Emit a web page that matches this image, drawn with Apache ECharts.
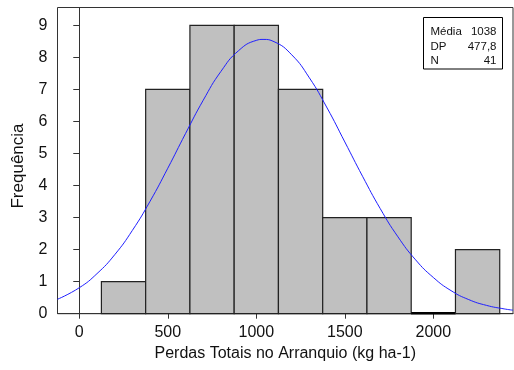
<!DOCTYPE html>
<html><head><meta charset="utf-8">
<script src="https://cdn.jsdelivr.net/npm/echarts@6/dist/echarts.min.js"></script>
<style>html,body{margin:0;padding:0;background:#fff}#c{width:514px;height:370px}</style>
</head><body><div id="c"></div>
<script>
var binStarts = [125, 375, 625, 875, 1125, 1375, 1625, 1875, 2125];
var binWidth = 250;
var counts = [1, 7, 9, 9, 7, 3, 3, 0, 2];
var curveX = [-123, 0, 100, 200, 300, 400, 500, 600, 700, 800, 900, 1000, 1038, 1100, 1200, 1300, 1400, 1500, 1600, 1700, 1800, 1900, 2000, 2100, 2200, 2300, 2400, 2450];
var curveY = [0.45, 0.81, 1.25, 1.84, 2.60, 3.51, 4.54, 5.62, 6.66, 7.56, 8.21, 8.53, 8.56, 8.49, 8.08, 7.36, 6.42, 5.36, 4.29, 3.28, 2.40, 1.68, 1.13, 0.72, 0.44, 0.26, 0.15, 0.11];
var xTicks = [0, 500, 1000, 1500, 2000];
var yTicks = [0, 1, 2, 3, 4, 5, 6, 7, 8, 9];
var statLabels = ['Média', 'DP', 'N'];
var statValues = ['1038', '477,8', '41'];
var xTitle = 'Perdas Totais no Arranquio (kg ha-1)';
var yTitle = 'Frequência';

var FONT = '"Liberation Sans", Arial, sans-serif';
var chart = echarts.init(document.getElementById('c'), null, {renderer: 'canvas'});

var barData = binStarts.map(function (s, i) { return [s, s + binWidth, counts[i]]; });
var lineData = curveX.map(function (x, i) { return [x, curveY[i]]; });

var gfx = [];
gfx.push({type: 'rect', shape: {x: 423.5, y: 17.5, width: 79, height: 51.5}, style: {fill: '#fff', stroke: '#000', lineWidth: 1}, z: 100});
statLabels.forEach(function (l, i) {
  gfx.push({type: 'text', x: 430.5, y: 32 + i * 14.5, style: {text: l, fill: '#111', font: '11.5px ' + FONT, textVerticalAlign: 'middle', textAlign: 'left'}, z: 101});
  gfx.push({type: 'text', x: 496.5, y: 32 + i * 14.5, style: {text: statValues[i], fill: '#111', font: '11.5px ' + FONT, textVerticalAlign: 'middle', textAlign: 'right'}, z: 101});
});
gfx.push({type: 'text', x: 18, y: 166, rotation: Math.PI / 2, style: {text: yTitle, fill: '#111', font: '17px ' + FONT, textAlign: 'center', textVerticalAlign: 'middle'}, z: 101});

function plain(v) { return String(v); }

chart.setOption({
  animation: false,
  backgroundColor: '#fff',
  grid: {left: 57.5, top: 7.5, right: 1, bottom: 56.3, show: true, borderColor: '#333', borderWidth: 1, backgroundColor: 'transparent', outerBoundsMode: 'none', containLabel: false},
  xAxis: {
    type: 'value', min: -123, max: 2450,
    name: xTitle, nameLocation: 'middle', nameGap: 32,
    nameTextStyle: {fontFamily: FONT, fontSize: 16, color: '#111'},
    axisLine: {show: true, onZero: false, lineStyle: {color: '#333', width: 1}},
    axisTick: {show: true, inside: false, length: 5, lineStyle: {color: '#333'}, customValues: xTicks},
    axisLabel: {fontFamily: FONT, fontSize: 16, color: '#111', margin: 11, formatter: plain, customValues: xTicks},
    splitLine: {show: false}
  },
  yAxis: {
    type: 'value', min: 0, max: 9.556,
    axisLine: {show: true, lineStyle: {color: '#333', width: 1}},
    axisTick: {show: true, inside: false, length: 6, lineStyle: {color: '#333'}, customValues: yTicks},
    axisLabel: {fontFamily: FONT, fontSize: 16, color: '#111', margin: 10, formatter: plain, customValues: yTicks},
    splitLine: {show: false}
  },
  series: [
    {
      type: 'custom',
      data: barData,
      encode: {x: [0, 1], y: 2},
      renderItem: function (params, api) {
        var p0 = api.coord([api.value(0), 0]);
        var p1 = api.coord([api.value(1), api.value(2)]);
        if (api.value(2) === 0) {
          return {type: 'line', shape: {x1: p0[0], y1: p0[1] - 0.5, x2: p1[0], y2: p0[1] - 0.5}, style: {stroke: '#000', lineWidth: 2.5}};
        }
        return {type: 'rect', shape: {x: p0[0], y: p1[1], width: p1[0] - p0[0], height: p0[1] - p1[1]},
          style: {fill: '#c0c0c0', stroke: '#222', lineWidth: 1.2}};
      },
      z: 2
    },
    {
      type: 'line',
      data: lineData,
      smooth: true,
      showSymbol: false,
      lineStyle: {color: '#1f1fff', width: 1},
      z: 3
    }
  ],
  graphic: gfx
});
</script></body></html>
